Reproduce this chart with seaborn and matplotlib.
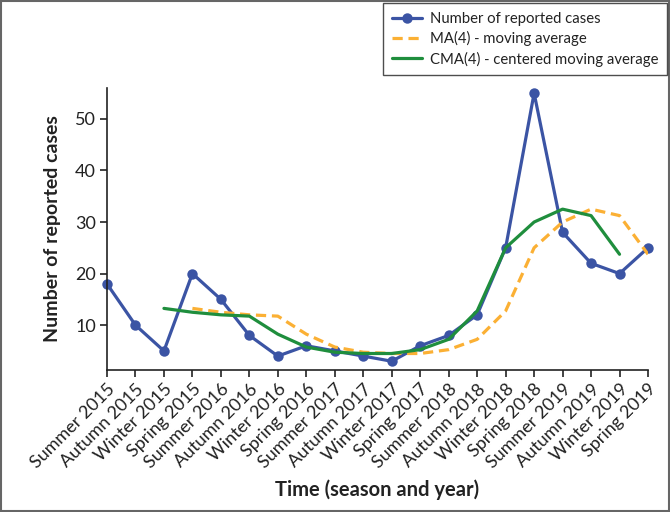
import matplotlib
matplotlib.use("Agg")
import matplotlib.pyplot as plt
import seaborn as sns
import numpy as np
import pandas as pd
from matplotlib.patches import Rectangle

categories = ["Summer 2015", "Autumn 2015", "Winter 2015", "Spring 2015",
              "Summer 2016", "Autumn 2016", "Winter 2016", "Spring 2016",
              "Summer 2017", "Autumn 2017", "Winter 2017", "Spring 2017",
              "Summer 2018", "Autumn 2018", "Winter 2018", "Spring 2018",
              "Summer 2019", "Autumn 2019", "Winter 2019", "Spring 2019"]
cases = [18, 10, 5, 20, 15, 8, 4, 6, 5, 4, 3, 6, 8, 12, 25, 55, 28, 22, 20, 25]
ma4 = [np.nan, np.nan, np.nan, 13.25, 12.5, 12, 11.75, 8.25, 5.75, 4.75, 4.5,
       4.5, 5.25, 7.25, 12.75, 25, 30, 32.5, 31.25, 23.75]
cma4 = [np.nan, np.nan, 13.25, 12.5, 12, 11.75, 8.25, 5.75, 4.75, 4.5, 4.5,
        5.25, 7.25, 12.75, 25, 30, 32.5, 31.25, 23.75, np.nan]
yticks = [10, 20, 30, 40, 50]

sns.set_theme(style="white")
plt.rcParams['font.family'] = ['Lato', 'DejaVu Sans']

df = pd.DataFrame({"pos": np.arange(len(categories)), "cases": cases,
                   "ma": ma4, "cma": cma4})

fig = plt.figure(figsize=(6.7, 5.12), dpi=100)
ax = fig.add_axes([107/670, 1-370/512, (648-107)/670, (370-88)/512])

blue = "#3b54a4"
orange = "#fbb034"
green = "#1f8e3d"

sns.lineplot(data=df, x="pos", y="cases", ax=ax, color=blue, lw=2.3,
             marker="o", markersize=7.5, markeredgewidth=0, clip_on=False,
             label="Number of reported cases")
sns.lineplot(data=df.dropna(subset=["ma"]), x="pos", y="ma", ax=ax, color=orange,
             lw=2.3, linestyle="--", label="MA(4) - moving average")
sns.lineplot(data=df.dropna(subset=["cma"]), x="pos", y="cma", ax=ax, color=green,
             lw=2.3, label="CMA(4) - centered moving average")
ax.lines[1].set_dashes((3.2, 1.8))

ax.set_xlim(0, len(categories) - 1)
ax.set_ylim(1.3, 56)
ax.set_xticks(df["pos"])
ax.set_xticklabels(categories, rotation=45, ha="right", rotation_mode="anchor",
                   fontsize=13, color="#222222")
ax.set_yticks(yticks)
ax.set_yticklabels([str(v) for v in yticks], fontsize=13, color="#222222")
ax.tick_params(axis="both", direction="out", length=5, width=1.2, color="#222222",
               bottom=True, left=True, pad=3)
for s in ["top", "right"]:
    ax.spines[s].set_visible(False)
for s in ["left", "bottom"]:
    ax.spines[s].set_color("#222222")
    ax.spines[s].set_linewidth(1.2)

ax.set_xlabel("Time (season and year)", fontsize=14.5, fontweight="bold",
              color="#222222", labelpad=6)
ax.set_ylabel("Number of reported cases", fontsize=14, fontweight="bold",
              color="#222222", labelpad=10)

ax.get_legend().remove()
handles, labels = ax.get_legend_handles_labels()
leg = fig.legend(handles, labels, loc="upper right", bbox_to_anchor=(0.9955, 0.994),
                 fontsize=10.7, frameon=True, fancybox=False, edgecolor="#222222",
                 handlelength=2.0, borderpad=0.6, labelspacing=0.35,
                 handletextpad=0.5, borderaxespad=0.0)
leg.get_frame().set_linewidth(1.0)
for t in leg.get_texts():
    t.set_color("#222222")

fig.patches.append(Rectangle((0.002, 0.002), 0.996, 0.996, transform=fig.transFigure,
                             fill=False, edgecolor="#666666", linewidth=1.5))

fig.savefig("out.png", dpi=100)
